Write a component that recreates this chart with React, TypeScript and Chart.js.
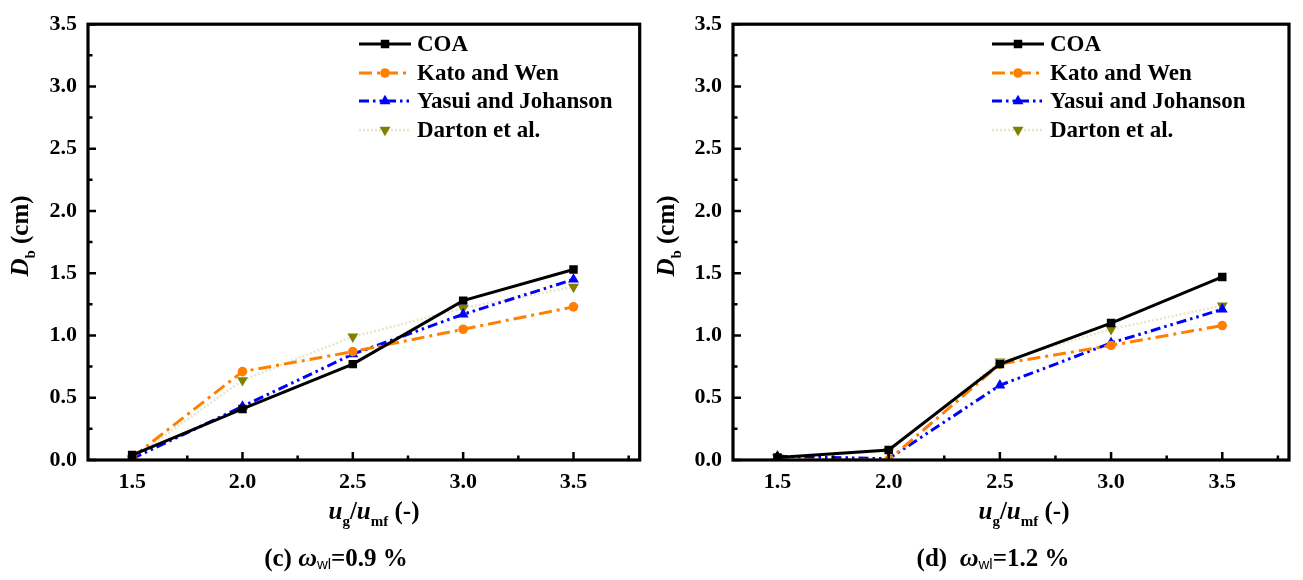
import React, { useEffect, useRef } from "react";
import { Chart, registerables } from "chart.js";

Chart.register(...registerables);

const X_VALUES = [1.5, 2.0, 2.5, 3.0, 3.5];
const X_TICKS = [1.5, 2.0, 2.5, 3.0, 3.5];
const X_MINOR = [1.75, 2.25, 2.75, 3.25, 3.75];
const Y_TICKS = [0, 0.5, 1.0, 1.5, 2.0, 2.5, 3.0, 3.5];
const Y_MINOR = [0.25, 0.75, 1.25, 1.75, 2.25, 2.75, 3.25];

const SERIES_NAMES = ["COA", "Kato and Wen", "Yasui and Johanson", "Darton et al."];

// panel (c) ω_wl = 0.9 %
const C_COA = [0.04, 0.41, 0.77, 1.28, 1.53];
const C_KATO = [0.02, 0.71, 0.87, 1.05, 1.23];
const C_YASUI = [0.01, 0.43, 0.85, 1.17, 1.45];
const C_DARTON = [0.01, 0.64, 0.99, 1.22, 1.39];

// panel (d) ω_wl = 1.2 %
const D_COA = [0.02, 0.08, 0.77, 1.10, 1.47];
const D_KATO = [0.0, 0.0, 0.77, 0.92, 1.08];
const D_YASUI = [0.03, 0.01, 0.60, 0.94, 1.21];
const D_DARTON = [0.02, 0.07, 0.79, 1.05, 1.24];

const SERIF = "'Liberation Serif', 'Times New Roman', serif";
const SANS = "'Liberation Sans', Arial, sans-serif";

type Style = {
  color: string;
  lineColor: string;
  dash: number[];
  width: number;
  point: "rect" | "circle" | "triangle" | "triangleDown";
  radius: number;
};

const STYLES: Style[] = [
  { color: "#000000", lineColor: "#000000", dash: [], width: 3, point: "rect", radius: 6 },
  { color: "#FF8000", lineColor: "#FF8000", dash: [13, 5, 3, 5], width: 3, point: "circle", radius: 4.8 },
  { color: "#0000FF", lineColor: "#0000FF", dash: [10, 4, 2.5, 4, 2.5, 4], width: 3, point: "triangle", radius: 6.3 },
  { color: "#808000", lineColor: "#E9E5C8", dash: [2, 2], width: 2.5, point: "triangleDown", radius: 6.3 },
];

type Part = { text: string; font: string; dy?: number };

function drawParts(ctx: CanvasRenderingContext2D, parts: Part[], cx: number, baseline: number) {
  let total = 0;
  const widths = parts.map((p) => {
    ctx.font = p.font;
    const w = ctx.measureText(p.text).width;
    total += w;
    return w;
  });
  let x = cx - total / 2;
  ctx.textBaseline = "alphabetic";
  ctx.textAlign = "left";
  parts.forEach((p, i) => {
    ctx.font = p.font;
    ctx.fillText(p.text, x, baseline + (p.dy || 0));
    x += widths[i];
  });
}

function drawMarker(ctx: CanvasRenderingContext2D, s: Style, x: number, y: number) {
  ctx.fillStyle = s.color;
  ctx.beginPath();
  const r = s.radius;
  if (s.point === "rect") {
    const h = r * Math.SQRT1_2;
    ctx.rect(x - h, y - h, 2 * h, 2 * h);
  } else if (s.point === "circle") {
    ctx.arc(x, y, r, 0, Math.PI * 2);
  } else if (s.point === "triangle") {
    ctx.moveTo(x, y - r);
    ctx.lineTo(x + r * 0.866, y + r * 0.5);
    ctx.lineTo(x - r * 0.866, y + r * 0.5);
    ctx.closePath();
  } else {
    ctx.moveTo(x, y + r);
    ctx.lineTo(x + r * 0.866, y - r * 0.5);
    ctx.lineTo(x - r * 0.866, y - r * 0.5);
    ctx.closePath();
  }
  ctx.fill();
}

type PanelProps = {
  series: number[][];
  label: string;
  omega: string;
  width: number;
  yAxisWidth: number;
  padRight: number;
  legendX: number;
  xTitleX: number;
  subTitleX: number;
};

function Panel(props: PanelProps) {
  const ref = useRef<HTMLCanvasElement | null>(null);
  useEffect(() => {
    if (!ref.current) return;
    const decor = {
      id: "decor",
      afterDraw(chart: any) {
        const ctx: CanvasRenderingContext2D = chart.ctx;
        const a = chart.chartArea;
        const xs = chart.scales.x;
        const ys = chart.scales.y;
        ctx.save();
        ctx.strokeStyle = "#000";
        ctx.fillStyle = "#000";
        // ticks
        ctx.lineWidth = 2.5;
        ctx.beginPath();
        Y_TICKS.forEach((v) => {
          const p = ys.getPixelForValue(v);
          ctx.moveTo(a.left, p);
          ctx.lineTo(a.left + 8, p);
        });
        Y_MINOR.forEach((v) => {
          const p = ys.getPixelForValue(v);
          ctx.moveTo(a.left, p);
          ctx.lineTo(a.left + 4.5, p);
        });
        X_TICKS.forEach((v) => {
          const p = xs.getPixelForValue(v);
          ctx.moveTo(p, a.bottom);
          ctx.lineTo(p, a.bottom - 8);
        });
        X_MINOR.forEach((v) => {
          const p = xs.getPixelForValue(v);
          ctx.moveTo(p, a.bottom);
          ctx.lineTo(p, a.bottom - 4.5);
        });
        ctx.stroke();
        // frame
        ctx.lineWidth = 3.2;
        ctx.strokeRect(a.left, a.top, a.right - a.left, a.bottom - a.top);

        // legend
        const rows = [44, 73, 101, 130];
        STYLES.forEach((s, i) => {
          const y = rows[i];
          const x0 = props.legendX;
          const x1 = x0 + 52;
          ctx.save();
          ctx.strokeStyle = s.lineColor;
          ctx.lineWidth = s.width;
          ctx.setLineDash(s.dash);
          ctx.beginPath();
          ctx.moveTo(x0, y);
          ctx.lineTo(x1, y);
          ctx.stroke();
          ctx.restore();
          drawMarker(ctx, s, (x0 + x1) / 2, y);
          ctx.fillStyle = "#000";
          ctx.font = `bold 23px ${SERIF}`;
          ctx.textAlign = "left";
          ctx.textBaseline = "middle";
          ctx.fillText(SERIES_NAMES[i], x1 + 6, y + 1);
        });

        ctx.fillStyle = "#000";
        // x title
        drawParts(
          ctx,
          [
            { text: "u", font: `italic bold 25px ${SERIF}` },
            { text: "g", font: `bold 15px ${SERIF}`, dy: 7 },
            { text: "/", font: `bold 25px ${SERIF}` },
            { text: "u", font: `italic bold 25px ${SERIF}` },
            { text: "mf", font: `bold 15px ${SERIF}`, dy: 7 },
            { text: " (-)", font: `bold 25px ${SERIF}` },
          ],
          props.xTitleX,
          519
        );
        // subtitle
        drawParts(
          ctx,
          [
            { text: props.label, font: `bold 25px ${SERIF}` },
            { text: "ω", font: `italic bold 26px ${SERIF}` },
            { text: "wl", font: `15px ${SANS}`, dy: 3 },
            { text: props.omega, font: `bold 25px ${SERIF}` },
          ],
          props.subTitleX,
          566
        );
        // y title
        ctx.save();
        ctx.translate(28, 236);
        ctx.rotate(-Math.PI / 2);
        drawParts(
          ctx,
          [
            { text: "D", font: `italic bold 25px ${SERIF}` },
            { text: "b", font: `bold 15px ${SERIF}`, dy: 7 },
            { text: " (cm)", font: `bold 25px ${SERIF}` },
          ],
          0,
          0
        );
        ctx.restore();
        ctx.restore();
      },
    };

    const datasets = props.series.map((vals, i) => {
      const s = STYLES[i];
      return {
        label: SERIES_NAMES[i],
        data: X_VALUES.map((x, j) => ({ x, y: vals[j] })),
        borderColor: s.lineColor,
        borderWidth: s.width,
        borderDash: s.dash,
        backgroundColor: s.color,
        pointBackgroundColor: s.color,
        pointBorderColor: s.color,
        pointBorderWidth: 0,
        pointRadius: s.radius,
        pointStyle: s.point === "triangleDown" ? "triangle" : s.point,
        pointRotation: s.point === "triangleDown" ? 180 : 0,
        tension: 0,
        fill: false,
      };
    });

    const chart = new Chart(ref.current, {
      type: "line",
      data: { datasets: datasets as any },
      options: {
        animation: false,
        responsive: false,
        maintainAspectRatio: false,
        layout: { padding: { left: 0, right: props.padRight, top: 14, bottom: 0 } },
        plugins: { legend: { display: false }, tooltip: { enabled: false } },
        scales: {
          x: {
            type: "linear",
            min: 1.3,
            max: 3.8,
            afterBuildTicks: (s: any) => {
              s.ticks = X_TICKS.map((v) => ({ value: v }));
            },
            afterFit: (s: any) => {
              s.height = 120;
            },
            grid: { display: false, drawTicks: false },
            border: { display: false },
            ticks: {
              color: "#000",
              padding: 9,
              maxRotation: 0,
              font: { family: SERIF, size: 22, weight: "bold" },
              callback: (v: any) => Number(v).toFixed(1),
            },
          },
          y: {
            type: "linear",
            min: 0,
            max: 3.5,
            afterBuildTicks: (s: any) => {
              s.ticks = Y_TICKS.map((v) => ({ value: v }));
            },
            afterFit: (s: any) => {
              s.width = props.yAxisWidth;
            },
            grid: { display: false, drawTicks: false },
            border: { display: false },
            ticks: {
              color: "#000",
              padding: 11,
              font: { family: SERIF, size: 22, weight: "bold" },
              callback: (v: any) => Number(v).toFixed(1),
            },
          },
        },
      } as any,
      plugins: [decor],
    });
    return () => chart.destroy();
  }, []);
  return <canvas ref={ref} width={props.width} height={580} style={{ display: "block", width: props.width, height: 580 }} />;
}

export default function App() {
  return (
    <div style={{ position: "fixed", left: 0, top: 0, width: 1303, height: 580, background: "#fff", display: "flex" }}>
      <Panel
        series={[C_COA, C_KATO, C_YASUI, C_DARTON]}
        label="(c) "
        omega="=0.9 %"
        width={646}
        yAxisWidth={88}
        padRight={3}
        legendX={359}
        xTitleX={374}
        subTitleX={336}
      />
      <Panel
        series={[D_COA, D_KATO, D_YASUI, D_DARTON]}
        label="(d)  "
        omega="=1.2 %"
        width={657}
        yAxisWidth={87}
        padRight={14}
        legendX={346}
        xTitleX={378}
        subTitleX={347}
      />
    </div>
  );
}
